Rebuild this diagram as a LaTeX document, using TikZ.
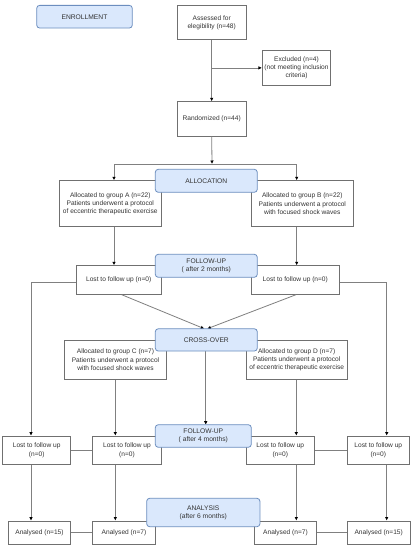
\documentclass[tikz,border=0pt]{standalone}
\usepackage{fontspec}
\setmainfont{Liberation Sans}
\usetikzlibrary{arrows.meta}
\definecolor{bluefill}{HTML}{DAE8FC}
\definecolor{blueline}{HTML}{6C8EBF}
\definecolor{boxline}{HTML}{707070}
\definecolor{conn}{HTML}{808080}
\definecolor{txt}{HTML}{333333}
\begin{document}
\begin{tikzpicture}[x=1pt,y=-1pt,
  box/.style={draw=boxline, line width=0.8pt, fill=white, align=center, inner sep=0pt,
    font=\fontsize{6.6pt}{8.2pt}\selectfont, text=txt},
  phase/.style={draw=blueline, line width=0.8pt, fill=bluefill, rounded corners=3pt, align=center,
    inner sep=0pt, font=\fontsize{6.7pt}{8.2pt}\selectfont, text=txt},
  line/.style={draw=conn, line width=0.8pt},
  arr/.style={line, -{Latex[length=3.5pt,width=3.5pt,color=black]}}]
\useasboundingbox (0,0) rectangle (412,550);
\fill[white] (0,0) rectangle (412,550);
% guide coordinates for connector columns
\coordinate (xa) at (114,0);
\coordinate (xb) at (296.7,0);
\coordinate (xo1) at (31,0);
\coordinate (xo2) at (386.7,0);
\coordinate (xc) at (115.3,0);
\coordinate (xd) at (296.3,0);
\coordinate (sp) at (212,164);
% white boxes
\node[box, minimum width=68.7pt, minimum height=34.4pt] (assess) at (211.7,22.5) {Assessed for\\elegibility (n=48)};
\node[box, minimum width=68.4pt, minimum height=34.3pt] (excl) at (296.5,67.9) {Excluded (n=4)\\(not meeting inclusion\\criteria)};
\node[box, minimum width=68.7pt, minimum height=34.3pt] (rand) at (211.7,118.9) {Randomized (n=44)};
\node[box, minimum width=102pt, minimum height=46pt] (gA) at (110.3,203.7) {Allocated to group A (n=22)\\Patients underwent a protocol\\of eccentric therapeutic exercise};
\node[box, minimum width=102pt, minimum height=46pt] (gB) at (302.3,203.7) {Allocated to group B (n=22)\\Patients underwent a protocol\\with focused shock waves};
\node[box, minimum width=85.3pt, minimum height=28.6pt] (l1) at (118.7,280) {Lost to follow up (n=0)};
\node[box, minimum width=88pt, minimum height=28.6pt] (l2) at (295.3,280) {Lost to follow up (n=0)};
\node[box, minimum width=102.4pt, minimum height=39.3pt] (gC) at (115.5,359.7) {Allocated to group C (n=7)\\Patients underwent a protocol\\with focused shock waves};
\node[box, minimum width=101.3pt, minimum height=39.3pt] (gD) at (296.7,359.7) {Allocated to group D (n=7)\\Patients underwent a protocol\\of eccentric therapeutic exercise};
\node[box, minimum width=68pt, minimum height=28.3pt] (L1) at (36.7,450.2) {Lost to follow up\\(n=0)};
\node[box, minimum width=68.6pt, minimum height=28.3pt] (L2) at (127,450.2) {Lost to follow up\\(n=0)};
\node[box, minimum width=68.7pt, minimum height=28.3pt] (L3) at (280.3,450.2) {Lost to follow up\\(n=0)};
\node[box, minimum width=62pt, minimum height=28.3pt] (L4) at (378.3,450.2) {Lost to follow up\\(n=0)};
\node[box, minimum width=62.4pt, minimum height=23pt] (A1) at (39.5,532.5) {Analysed (n=15)};
\node[box, minimum width=62.6pt, minimum height=23pt] (A2) at (124,532.5) {Analysed (n=7)};
\node[box, minimum width=62.4pt, minimum height=23pt] (A3) at (285.5,532.5) {Analysed (n=7)};
\node[box, minimum width=62.7pt, minimum height=23pt] (A4) at (378.7,532.5) {Analysed (n=15)};
% blue phase boxes (positions only, drawn later on top)
\path (206.3,339.9) coordinate (crossc);
% connectors
\draw[arr] (assess.south) -- (rand.north);
\draw[arr] (assess.south |- excl.west) -- (excl.west);
\draw[arr] (rand.south) -- (sp);
\draw[arr] (sp) -- (sp -| xa) -- (gA.north -| xa);
\draw[arr] (sp) -- (sp -| xb) -- (gB.north -| xb);
\draw[arr] (gA.south -| xa) -- (l1.north -| xa);
\draw[arr] (gB.south -| xb) -- (l2.north -| xb);
\draw[arr] ([yshift=-2.7pt]l1.west) -- ([yshift=-2.7pt]l1.west -| xo1) -- (L1.north -| xo1);
\draw[arr] ([yshift=-2.7pt]l2.east) -- ([yshift=-2.7pt]l2.east -| xo2) -- (L4.north -| xo2);
\draw[arr] ([xshift=3pt]l1.south) -- (204.3,328.7);
\draw[arr] ([xshift=0.7pt]l2.south) -- (207.3,328.7);
\draw[arr] (gC.south -| xc) -- (L2.north -| xc);
\draw[arr] (gD.south -| xd) -- (L3.north -| xd);
\draw[arr] (205.7,351) -- (205.7,424.7);
\draw[line] (L1.east) -- (L2.west);
\draw[line] (L3.east) -- (L4.west);
\draw[arr] (L1.south -| xo1) -- (A1.north -| xo1);
\draw[arr] (L2.south -| xc) -- (A2.north -| xc);
\draw[arr] (L3.south -| xd) -- (A3.north -| xd);
\draw[arr] (L4.south -| xo2) -- (A4.north -| xo2);
\draw[line] (A1.east) -- (A2.west);
\draw[line] (A3.east) -- (A4.west);
% phase boxes on top
\node[phase, minimum width=95.6pt, minimum height=22.7pt] (enroll) at (84.5,16.7) {ENROLLMENT};
\node[phase, minimum width=102pt, minimum height=23pt] (alloc) at (206.3,180.8) {ALLOCATION};
\node[phase, minimum width=102pt, minimum height=23pt] (fu1) at (206.3,265.8) {FOLLOW-UP\\( after 2 months)};
\node[phase, minimum width=102pt, minimum height=22.3pt] (cross) at (crossc) {CROSS-OVER};
\node[phase, minimum width=96pt, minimum height=22.6pt] (fu2) at (203.3,436) {FOLLOW-UP\\( after 4 months)};
\node[phase, minimum width=113.3pt, minimum height=28.4pt] (ana) at (203.3,512.5) {ANALYSIS\\(after 6 months)};
\end{tikzpicture}
\end{document}
